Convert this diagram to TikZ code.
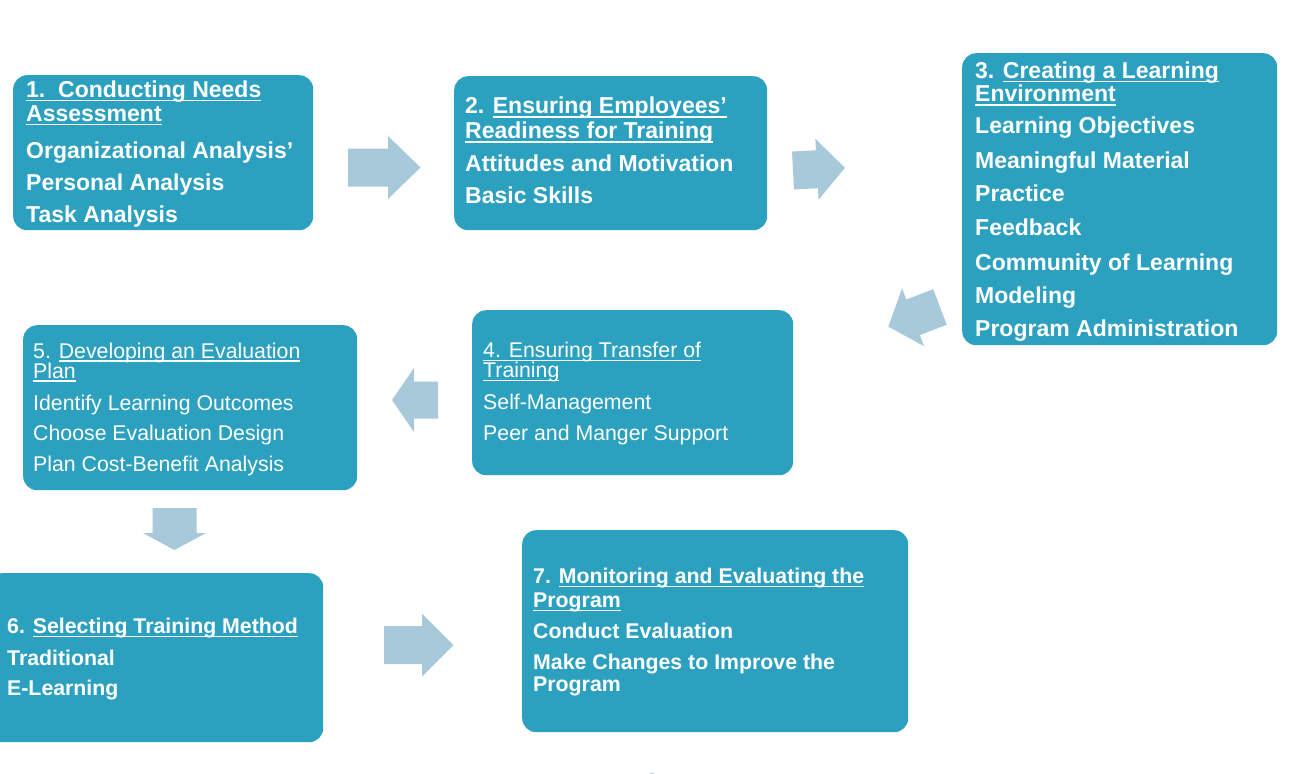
\documentclass[tikz,border=0pt]{standalone}
\usepackage{fontspec}
\setmainfont{Liberation Sans}
\definecolor{boxc}{HTML}{2CA0BF}
\definecolor{arrowc}{HTML}{A8C9DA}
\newcommand{\undl}[1]{\setbox0\hbox{#1}\rlap{\rule[-4.3pt]{\wd0}{1.6pt}}\box0}
\newcommand{\undr}[1]{\setbox0\hbox{#1}\rlap{\rule[-3.6pt]{\wd0}{1.3pt}}\box0}
\newcommand{\BArrow}[7]{%
  \fill[arrowc, shift={(#1,#2)}, rotate=#3]
    (0,-#5/2) -- (#4,-#5/2) -- (#4,-#7/2) -- (#4+#6,0) -- (#4,#7/2) -- (#4,#5/2) -- (0,#5/2) -- cycle;}
\tikzset{
  box/.style={fill=boxc, draw=none, rounded corners=14pt, anchor=north west, inner sep=0pt},
  bigb/.style={anchor=base west, inner sep=0pt, text=white, font=\bfseries\fontsize{23}{23}\selectfont},
  midb/.style={anchor=base west, inner sep=0pt, text=white, font=\bfseries\fontsize{21.3}{21.3}\selectfont},
  regt/.style={anchor=base west, inner sep=0pt, text=white, font=\fontsize{21.3}{21.3}\selectfont},
}
\begin{document}
\begin{tikzpicture}[x=1pt,y=-1pt]
\useasboundingbox (0,0) rectangle (1291,774);
\fill[white] (0,0) rectangle (1291,774);

% boxes
\node[box, minimum width=300, minimum height=155] (b1) at (13,75) {};
\node[box, minimum width=313, minimum height=154] (b2) at (454,76) {};
\node[box, minimum width=315, minimum height=292] (b3) at (962,53) {};
\node[box, minimum width=321, minimum height=165] (b4) at (472,310) {};
\node[box, minimum width=334, minimum height=165] (b5) at (23,325) {};
\node[box, minimum width=335, minimum height=169] (b6) at (-12,573) {};
\node[box, minimum width=386, minimum height=202] (b7) at (522,530) {};

% box 1
\node[bigb] (t1a) at (26,97) {\undl{1.~~Conducting Needs}};
\node[bigb] (t1b) at (26,121) {\undl{Assessment}};
\node[bigb] (t1c) at (26,158) {Organizational Analysis'};
\node[bigb] (t1d) at (26,190) {Personal Analysis};
\node[bigb] (t1e) at (26,222.5) {Task Analysis};

% box 2
\node[bigb] (t2a) at (465,113.3) {2. \undl{Ensuring Employees'}};
\node[bigb] (t2b) at (465,138.3) {\undl{Readiness for Training}};
\node[bigb] (t2c) at (465,171.7) {Attitudes and Motivation};
\node[bigb] (t2d) at (465,203.3) {Basic Skills};

% box 3
\node[bigb] (t3a) at (975,78) {3. \undl{Creating a Learning}};
\node[bigb] (t3b) at (975,101.7) {\undl{Environment}};
\node[bigb] (t3c) at (975,133.3) {Learning Objectives};
\node[bigb] (t3d) at (975,168.3) {Meaningful Material};
\node[bigb] (t3e) at (975,201.7) {Practice};
\node[bigb] (t3f) at (975,235) {Feedback};
\node[bigb] (t3g) at (975,270) {Community of Learning};
\node[bigb] (t3h) at (975,303.3) {Modeling};
\node[bigb] (t3i) at (975,336.7) {Program Administration};

% box 4
\node[regt] (t4a) at (483,357.3) {\undr{4. Ensuring Transfer of}};
\node[regt] (t4b) at (483,377.7) {\undr{Training}};
\node[regt] (t4c) at (483,409) {Self-Management};
\node[regt] (t4d) at (483,440) {Peer and Manger Support};

% box 5
\node[regt] (t5a) at (33,358) {5. \undr{Developing an Evaluation}};
\node[regt] (t5b) at (33,378) {\undr{Plan}};
\node[regt] (t5c) at (33,410) {Identify Learning Outcomes};
\node[regt] (t5d) at (33,440) {Choose Evaluation Design};
\node[regt] (t5e) at (33,471.7) {Plan Cost-Benefit Analysis};

% box 6
\node[midb] (t6a) at (7,633) {6. \undl{Selecting Training Method}};
\node[midb] (t6b) at (7,665) {Traditional};
\node[midb] (t6c) at (7,695) {E-Learning};

% box 7
\node[midb] (t7a) at (533,583) {7. \undl{Monitoring and Evaluating the}};
\node[midb] (t7b) at (533,607) {\undl{Program}};
\node[midb] (t7c) at (533,638) {Conduct Evaluation};
\node[midb] (t7d) at (533,669) {Make Changes to Improve the};
\node[midb] (t7e) at (533,691) {Program};

% block arrows: x y angle shaftlen shaftw headlen headw
\BArrow{348}{167.5}{0}{40}{38}{32.5}{63}
\BArrow{793}{170.5}{3}{24}{38}{28}{61}
\BArrow{940}{307}{200.8}{28.8}{38}{26.5}{62}
\BArrow{438}{400}{180}{24}{37}{22}{64}
\BArrow{174.5}{508}{-90}{25}{44}{17}{63}
\BArrow{384}{645}{0}{38}{38}{31.5}{63}

% small mark at the bottom edge
\draw[arrowc!70!gray, line width=1.5pt] (652,781) circle (7);
\end{tikzpicture}
\end{document}
